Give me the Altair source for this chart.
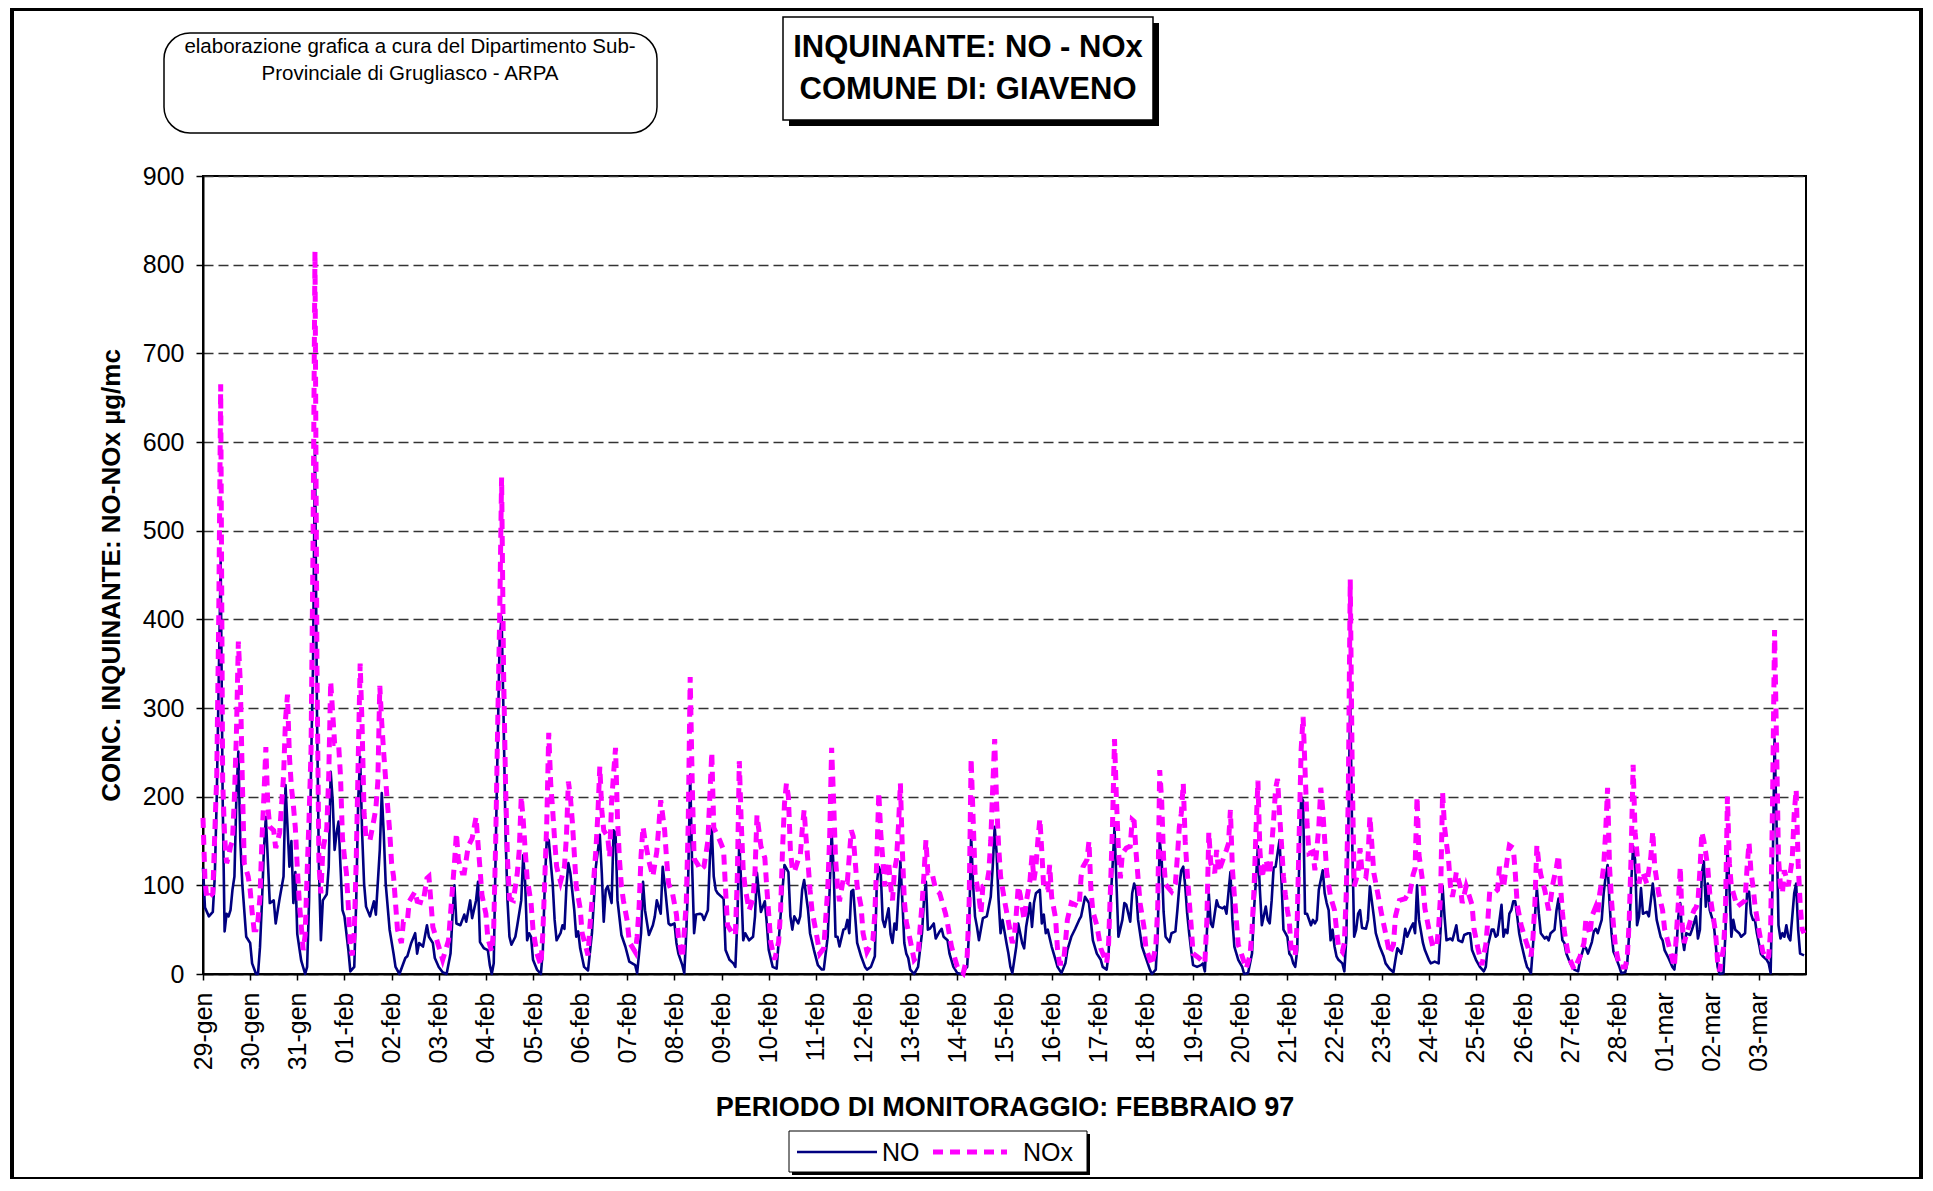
import json
import pandas as pd
import altair as alt

FONT = "Liberation Sans"

DAY_LABELS = ["29-gen", "30-gen", "31-gen", "01-feb", "02-feb", "03-feb", "04-feb",
              "05-feb", "06-feb", "07-feb", "08-feb", "09-feb", "10-feb", "11-feb",
              "12-feb", "13-feb", "14-feb", "15-feb", "16-feb", "17-feb", "18-feb",
              "19-feb", "20-feb", "21-feb", "22-feb", "23-feb", "24-feb", "25-feb",
              "26-feb", "27-feb", "28-feb", "01-mar", "02-mar", "03-mar"]

# (hour from 29-gen 00:00, µg/mc)
NO_READINGS = [
    (0,120),(1,75),(3,65),(5,70),(6,110),(7,200),(8,330),(9,465),(10,200),(11,48),(12,68),(13,65),(14,72),(15,95),(16,110),(17,200),(18,251),(19,150),(20,102),(22,42),
    (24,35),(25,12),(27,0),(28,0),(29,30),(30,80),(31,140),(32,177),(34,80),(36,83),(37,57),(39,85),(41,110),(42,213),(44,121),(45,150),(46,80),(47,115),
    (48,45),(50,15),(52,0),(53,8),(54,83),(55,234),(56,347),(57,598),(58,300),(59,121),(60,38),(61,83),(63,90),(64,121),(65,228),(66,196),(67,140),(68,159),(69,172),(70,121),(71,72),
    (72,65),(74,27),(75,3),(77,8),(78,83),(79,196),(80,245),(81,159),(82,102),(83,76),(85,65),(87,82),(88,67),(90,140),(91,204),(92,159),(93,102),(95,50),
    (97,23),(98,8),(100,0),(103,18),(104,20),(106,35),(108,46),(109,23),(110,35),(112,31),(114,55),(115,42),(117,35),(118,18),
    (120,8),(122,2),(124,0),(126,23),(127,65),(128,100),(129,57),(131,55),(133,67),(134,59),(136,83),(137,63),(139,83),(140,104),(141,36),(143,29),
    (145,27),(146,10),(147,0),(148,12),(149,140),(150,260),(151,377),(152,403),(153,290),(154,159),(155,83),(156,42),(157,33),(159,42),(160,55),(162,83),(163,134),(164,102),(165,38),(166,46),(167,42),
    (168,16),(170,5),(172,0),(173,27),(174,102),(175,153),(176,151),(178,102),(179,61),(180,38),(182,46),(183,55),(184,51),(185,99),(186,125),(187,114),(189,72),(190,42),(191,48),
    (192,29),(194,8),(196,4),(198,46),(200,121),(202,157),(203,114),(204,59),(205,95),(206,99),(208,80),(209,162),(210,159),(211,83),(213,44),(215,31),
    (217,14),(220,10),(221,1),(223,46),(224,104),(225,72),(227,44),(229,55),(230,65),(231,83),(233,68),(234,121),(235,102),(237,57),(238,55),
    (240,57),(241,35),(242,23),(244,10),(245,1),(246,46),(247,110),(248,225),(249,121),(250,46),(251,67),(253,68),(254,67),(255,61),(257,72),(258,129),(259,164),(260,110),(261,95),(262,91),
    (264,87),(265,85),(266,27),(268,16),(270,12),(271,8),(272,60),(273,151),(274,99),(275,38),(276,46),(278,38),(280,42),(281,65),(282,114),(283,91),(284,70),(286,82),(287,57),
    (288,27),(290,8),(292,6),(294,65),(295,95),(296,123),(298,115),(299,65),(300,50),(301,65),(303,57),(304,65),(305,95),(306,106),(308,72),(309,46),(311,27),
    (313,10),(315,5),(316,5),(318,42),(319,95),(320,159),(321,121),(322,42),(323,42),(324,31),(326,50),(327,51),(328,61),(329,46),(330,93),(331,95),(332,65),(333,35),(335,20),
    (337,8),(338,5),(340,8),(342,20),(343,102),(344,121),(345,114),(346,61),(347,53),(349,74),(350,45),(351,35),(352,57),(353,50),(355,127),(356,83),(357,35),(358,23),(359,18),
    (360,5),(362,0),(364,8),(366,46),(367,83),(368,104),(369,50),(370,51),(372,57),(373,40),(375,48),(376,51),(377,42),(379,38),(380,23),(382,8),
    (384,1),(386,0),(389,8),(390,50),(391,157),(392,102),(393,65),(394,53),(395,38),(397,63),(399,65),(401,87),(402,121),(403,166),(404,136),(405,83),(406,46),(407,61),
    (409,35),(410,23),(411,8),(412,1),(414,31),(415,57),(417,35),(418,29),(419,53),(421,80),(422,53),(423,80),(424,91),(426,95),(427,57),(428,67),(429,46),(430,50),
    (432,31),(434,16),(435,8),(437,1),(439,12),(440,27),(442,42),(444,51),(446,61),(447,65),(448,76),(449,87),(451,80),(452,59),(453,38),(455,23),
    (457,16),(458,8),(460,5),(461,23),(462,83),(463,121),(464,165),(465,102),(466,42),(468,61),(469,80),(470,78),(472,59),(473,91),(474,102),(475,95),(476,61),(478,31),
    (480,18),(482,5),(483,0),(485,5),(486,46),(487,151),(488,130),(489,70),(490,42),(492,36),(493,46),(495,48),(496,72),(497,99),(498,117),(499,121),(500,99),(501,68),(502,46),(503,27),
    (504,10),(506,8),(508,10),(509,12),(510,3),(511,46),(512,91),(513,57),(514,53),(515,68),(516,83),(517,76),(519,74),(520,76),(521,68),(523,115),(524,61),(525,31),
    (527,16),(529,8),(530,0),(532,1),(534,23),(535,72),(536,106),(537,144),(538,95),(539,55),(541,76),(542,61),(543,57),(544,83),(545,120),(546,121),(547,136),(548,151),(549,105),(550,50),
    (551,46),(552,42),(553,23),(554,20),(555,12),(556,8),(557,27),(558,121),(559,200),(560,195),(561,68),(562,68),(564,55),(565,61),(566,57),(567,61),(568,95),(570,117),(571,91),(572,80),(573,72),
    (574,38),(575,50),(576,31),(577,20),(578,16),(580,12),(581,3),(582,40),(583,160),(584,315),(585,150),(586,42),(587,50),(588,68),(589,72),(590,52),(592,51),(593,61),(594,99),(596,65),(597,46),
    (599,31),(601,20),(602,12),(604,6),(606,2),(607,16),(608,29),(610,23),(611,35),(612,51),(613,42),(615,53),(616,57),(617,46),(618,100),(619,61),(621,35),
    (622,27),(624,16),(625,12),(627,14),(629,12),(630,50),(631,99),(632,65),(633,38),(635,40),(636,38),(638,55),(639,38),(641,36),(642,44),(644,46),(645,46),
    (646,27),(648,16),(650,8),(652,3),(653,8),(654,31),(656,50),(657,50),(658,42),(659,44),(661,78),(662,42),(663,50),(664,46),(665,68),(666,72),(667,82),(668,82),(669,65),
    (670,46),(671,35),(673,16),(674,8),(675,5),(676,1),(677,31),(678,65),(679,97),(680,68),(681,46),(683,40),(684,42),(685,38),(686,46),(688,50),(689,72),(690,85),(691,61),(692,38),
    (693,35),(694,23),(696,12),(698,5),(700,3),(701,16),(703,31),(704,29),(705,23),(707,36),(708,48),(709,51),(710,46),(712,61),(713,91),(714,110),(715,123),(716,80),(717,46),
    (718,25),(719,20),(721,8),(722,1),(724,2),(725,12),(726,46),(727,102),(728,144),(729,129),(730,55),(731,65),(732,97),(733,68),(735,70),(736,65),(737,83),(738,102),(739,83),(740,61),
    (742,42),(743,38),(744,27),(746,18),(748,8),(749,5),(750,27),(751,65),(752,80),(753,42),(754,27),(755,46),(757,44),(758,50),(760,65),(761,40),(762,50),(763,114),(764,127),(765,76),
    (766,102),(767,72),(769,57),(770,35),(771,8),(772,0),(774,1),(775,46),(776,144),(777,99),(778,42),(779,61),(780,50),(782,46),(783,42),(785,46),(786,91),(787,93),(788,68),(789,61),
    (790,61),(791,46),(792,35),(793,23),(794,20),(796,16),(797,12),(798,1),(799,110),(800,265),(801,170),(802,55),(803,40),(804,46),(805,42),(806,55),(807,42),(808,38),(810,91),(811,102),
    (812,50),(813,23),(815,21),
]

NOX_READINGS = [
    (0,176),(1,106),(2,85),(5,91),(6,159),(7,224),(8,400),(9,665),(10,219),(11,155),(12,125),(13,132),(14,144),(15,150),(16,200),(17,270),(18,375),(19,328),(20,220),(21,125),(23,110),
    (24,95),(25,70),(26,50),(27,50),(28,61),(29,87),(30,151),(31,200),(32,256),(33,189),(34,166),(36,162),(37,142),(39,159),(41,223),(42,287),(43,315),(44,245),(45,211),(46,190),(47,165),
    (48,120),(49,82),(50,55),(51,27),(52,44),(53,114),(54,177),(55,253),(56,480),(57,815),(58,350),(59,125),(60,91),(61,140),(63,164),(64,223),(65,330),(67,260),(69,260),(70,223),(71,153),
    (72,132),(73,114),(74,76),(75,29),(76,21),(77,46),(78,129),(79,240),(80,350),(81,279),(82,181),(83,153),(85,151),(87,174),(88,187),(89,217),(90,325),(91,283),(92,249),(93,219),(94,189),(95,162),
    (96,125),(97,110),(98,80),(99,50),(101,35),(102,59),(104,59),(105,82),(108,93),(109,82),(112,80),(114,108),(115,110),(116,82),(117,53),
    (120,31),(122,16),(125,38),(126,68),(127,97),(128,125),(129,159),(130,129),(132,114),(133,114),(135,144),(137,153),(139,177),(140,147),(141,119),(142,89),
    (144,68),(145,40),(147,25),(148,53),(149,150),(150,280),(151,400),(152,560),(153,343),(154,215),(155,130),(156,85),(158,83),(160,114),(161,140),(162,200),(163,174),(164,140),(165,108),(167,80),
    (168,50),(170,23),(172,10),(173,46),(174,108),(175,172),(176,272),(177,215),(178,185),(179,151),(180,121),(182,104),(184,121),(185,155),(186,217),(187,200),(188,172),(189,136),(190,99),
    (192,74),(193,46),(194,38),(196,21),(197,55),(198,82),(199,110),(200,140),(201,180),(202,234),(203,185),(204,162),(206,155),(207,132),(208,194),(209,226),(210,255),(211,175),(212,129),(213,99),(214,83),
    (216,59),(217,36),(220,25),(221,42),(222,76),(223,134),(224,166),(225,151),(227,127),(229,110),(231,138),(232,166),(233,196),(235,162),(236,129),(237,102),(239,91),
    (241,67),(242,42),(244,18),(245,48),(246,80),(247,170),(248,335),(249,220),(250,130),(252,123),(253,117),(255,121),(257,150),(258,200),(259,250),(260,165),(263,151),
    (265,140),(266,95),(267,55),(270,44),(271,44),(272,110),(273,240),(274,170),(275,117),(276,97),(278,72),(280,85),(281,115),(282,179),(284,144),(286,131),(287,97),
    (288,67),(289,36),(291,16),(293,36),(294,70),(295,140),(296,192),(297,215),(298,200),(299,140),(300,118),(301,115),(303,129),(304,132),(305,162),(306,185),(307,153),(308,125),(309,95),(310,72),
    (312,48),(314,23),(316,29),(317,63),(318,95),(319,155),(320,255),(321,196),(322,130),(323,99),(324,82),(326,108),(328,104),(330,162),(331,155),(332,127),(333,99),(335,76),
    (336,46),(338,25),(341,38),(342,68),(343,130),(344,205),(345,159),(346,131),(347,99),(349,127),(350,100),(351,83),(352,117),(353,129),(354,166),(355,215),(356,140),(357,83),(358,59),
    (360,38),(362,16),(364,21),(365,51),(366,78),(367,112),(368,151),(369,114),(371,115),(373,95),(375,91),(378,68),(379,57),(381,31),
    (384,8),(387,1),(389,20),(390,80),(391,243),(392,177),(393,114),(395,87),(396,68),(397,99),(399,102),(400,115),(401,150),(402,210),(403,265),(404,192),(405,145),(406,110),
    (408,83),(410,59),(412,35),(413,42),(414,68),(415,99),(416,89),(418,61),(419,80),(421,106),(422,134),(423,106),(424,121),(425,151),(426,175),(427,138),(428,95),(430,95),(431,123),
    (432,87),(434,63),(435,27),(436,12),(438,12),(439,35),(440,61),(442,80),(444,78),(446,76),(447,110),(448,121),(450,129),(451,150),(452,95),(453,70),(455,55),
    (457,29),(460,12),(461,35),(462,100),(463,170),(464,265),(465,196),(466,140),(467,108),(468,136),(470,142),(472,144),(473,174),(474,172),(475,136),(476,108),(477,80),(479,53),
    (480,29),(483,10),(485,31),(486,75),(487,230),(488,196),(489,130),(490,101),(493,93),(495,102),(496,132),(497,166),(498,181),(499,215),(500,149),(501,115),(502,83),(503,55),
    (504,23),(507,18),(510,12),(511,60),(512,160),(513,125),(514,119),(515,114),(516,140),(517,115),(520,134),(521,140),(522,147),(523,185),(524,119),(525,89),(526,61),
    (527,33),(529,20),(531,6),(533,21),(534,50),(535,95),(536,160),(537,218),(538,140),(539,108),(541,129),(543,112),(544,144),(545,174),(546,209),(547,220),(548,181),(549,147),(550,110),
    (551,89),(552,72),(553,59),(554,25),(556,21),(557,59),(558,157),(559,253),(560,290),(561,230),(562,170),(563,136),(565,138),(566,117),(568,166),(569,210),(570,185),(571,151),(572,115),
    (574,87),(576,72),(577,50),(578,31),(580,25),(581,35),(582,93),(583,200),(584,445),(585,230),(586,99),(588,114),(589,142),(590,114),(592,110),(593,129),(594,178),(595,146),(596,114),
    (598,91),(600,67),(602,46),(604,23),(606,33),(607,65),(609,83),(612,85),(613,89),(614,87),(616,112),(617,119),(618,200),(619,134),(621,102),
    (622,74),(624,51),(626,31),(628,31),(629,53),(630,90),(631,205),(632,166),(633,147),(634,130),(635,100),(636,87),(637,99),(638,115),(640,99),(641,80),(643,99),
    (646,78),(647,51),(649,29),(651,10),(653,33),(654,59),(655,93),(657,91),(659,95),(660,121),(662,97),(663,114),(664,131),(665,145),(667,142),(668,114),(669,78),
    (671,55),(673,40),(676,20),(677,40),(678,80),(679,145),(680,125),(681,112),(683,95),(685,72),(686,83),(687,100),(689,121),(690,134),(691,100),(692,70),
    (693,48),(695,21),(698,5),(699,10),(701,20),(703,35),(704,63),(706,44),(707,65),(709,76),(710,68),(711,91),(712,104),(713,121),(714,160),(715,210),(716,120),(717,83),
    (718,55),(719,31),(721,8),(724,8),(725,18),(726,60),(727,136),(728,236),(729,160),(730,136),(731,102),(732,114),(733,114),(735,102),(737,132),(738,161),(739,121),
    (741,91),(743,72),(744,51),(747,25),(749,8),(751,80),(752,121),(753,55),(754,35),(757,59),(759,72),(760,75),(761,82),(762,117),(763,160),(764,150),(765,136),
    (766,120),(767,91),(769,61),(770,46),(771,14),(772,3),(774,29),(775,70),(776,200),(777,125),(778,99),(781,76),(785,83),(786,120),(787,148),(788,115),(789,99),
    (790,78),(792,50),(794,25),(796,16),(797,20),(798,50),(799,200),(800,388),(801,260),(802,130),(803,100),(804,91),(805,117),(807,99),(809,130),(810,181),(811,208),
    (812,125),(813,80),(814,51),(815,46),
]

TOTAL_HOURS = 816
Y_TICKS = [0, 100, 200, 300, 400, 500, 600, 700, 800, 900]

no_df = pd.DataFrame(NO_READINGS, columns=["ora", "valore"])
nox_df = pd.DataFrame(NOX_READINGS, columns=["ora", "valore"])

W, H = 1603, 798

xscale = alt.Scale(domain=[0, TOTAL_HOURS], nice=False, zero=False)
yscale = alt.Scale(domain=[0, 900], nice=False)

x_axis = alt.Axis(
    values=list(range(0, TOTAL_HOURS, 24)),
    labelExpr=json.dumps(DAY_LABELS) + "[round(datum.value / 24)]",
    labelAngle=270, labelFont=FONT, labelFontSize=25, labelColor="black",
    labelPadding=12, labelOverlap=False, labelFlush=False, labelBound=False,
    tickSize=6, tickColor="black", tickWidth=1.5,
    domainColor="black", domainWidth=2, grid=False,
    title="PERIODO DI MONITORAGGIO: FEBBRAIO 97", titleFont=FONT, titleFontSize=27,
    titleFontWeight="bold", titleColor="black", titleY=133, titleBaseline="middle",
)
y_axis = alt.Axis(
    values=Y_TICKS, labelFont=FONT, labelFontSize=25, labelColor="black",
    labelPadding=12, tickSize=7, tickColor="black", tickWidth=1.5,
    domainColor="black", domainWidth=2,
    grid=True, gridDash=[10, 5], gridColor="#333333", gridWidth=1.3,
    title="CONC. INQUINANTE: NO-NOx µg/mc", titleFont=FONT, titleFontSize=26,
    titleFontWeight="bold", titleColor="black", titleX=-92, titleY=H / 2,
    titleAngle=270, titleAlign="center", titleBaseline="middle",
)

enc_x = alt.X("ora:Q", scale=xscale, axis=x_axis)
enc_y = alt.Y("valore:Q", scale=yscale, axis=y_axis)

no_line = alt.Chart(no_df).mark_line(color="#000080", strokeWidth=2.6, strokeJoin="round").encode(x=enc_x, y=enc_y)
nox_line = alt.Chart(nox_df).mark_line(color="#FF00FF", strokeWidth=5, strokeDash=[10, 7], strokeCap="butt").encode(x=enc_x, y=enc_y)

one = alt.Data(values=[{"k": 1}])


def box(x1, x2, y1, y2, **kw):
    return alt.Chart(one).mark_rect(**kw).encode(
        x=alt.value(x1), x2=alt.value(x2), y=alt.value(y1), y2=alt.value(y2))


def txt(s, x, y, size, weight="normal", align="center"):
    return alt.Chart(one).mark_text(text=s, font=FONT, fontSize=size, fontWeight=weight,
                                    align=align, baseline="middle", color="black").encode(
        x=alt.value(x), y=alt.value(y))


frame = box(-191, 1718, -167, 1003, fillOpacity=0, stroke="black", strokeWidth=4)
annot_box = box(-39, 454, -143, -43, fill="white", stroke="black", strokeWidth=1.5, cornerRadius=26)
annot1 = txt("elaborazione grafica a cura del Dipartimento Sub-", 207, -129, 20.5)
annot2 = txt("Provinciale di Grugliasco - ARPA", 207, -102, 20.5)
title_shadow = box(586, 956, -153, -50, fill="black")
title_box = box(580, 950, -159, -56, fill="white", stroke="black", strokeWidth=1.5)
title1 = txt("INQUINANTE: NO - NOx", 765, -128, 31, "bold")
title2 = txt("COMUNE DI: GIAVENO", 765, -86, 31, "bold")

leg_shadow = box(589, 887, 958, 999, fill="black")
leg_box = box(586, 884, 955, 996, fill="white", stroke="black", strokeWidth=1)
leg_no = alt.Chart(one).mark_rule(color="#000080", strokeWidth=2.6).encode(
    x=alt.value(594), x2=alt.value(674), y=alt.value(976))
leg_nox = alt.Chart(one).mark_rule(color="#FF00FF", strokeWidth=5, strokeDash=[10, 7]).encode(
    x=alt.value(730), x2=alt.value(804), y=alt.value(976))
leg_t1 = txt("NO", 679, 977, 25, align="left")
leg_t2 = txt("NOx", 820, 977, 25, align="left")

chart = alt.layer(
    frame, annot_box, annot1, annot2, title_shadow, title_box, title1, title2,
    no_line, nox_line,
    leg_shadow, leg_box, leg_no, leg_nox, leg_t1, leg_t2,
).properties(
    width=W, height=H,
    padding={"left": 195, "top": 168, "right": 117, "bottom": 205},
    autosize=alt.AutoSizeParams(type="none"),
    background="white",
).configure_view(stroke="black", strokeWidth=2)

chart.save("out.html", embed_options={"renderer": "svg", "actions": False})
